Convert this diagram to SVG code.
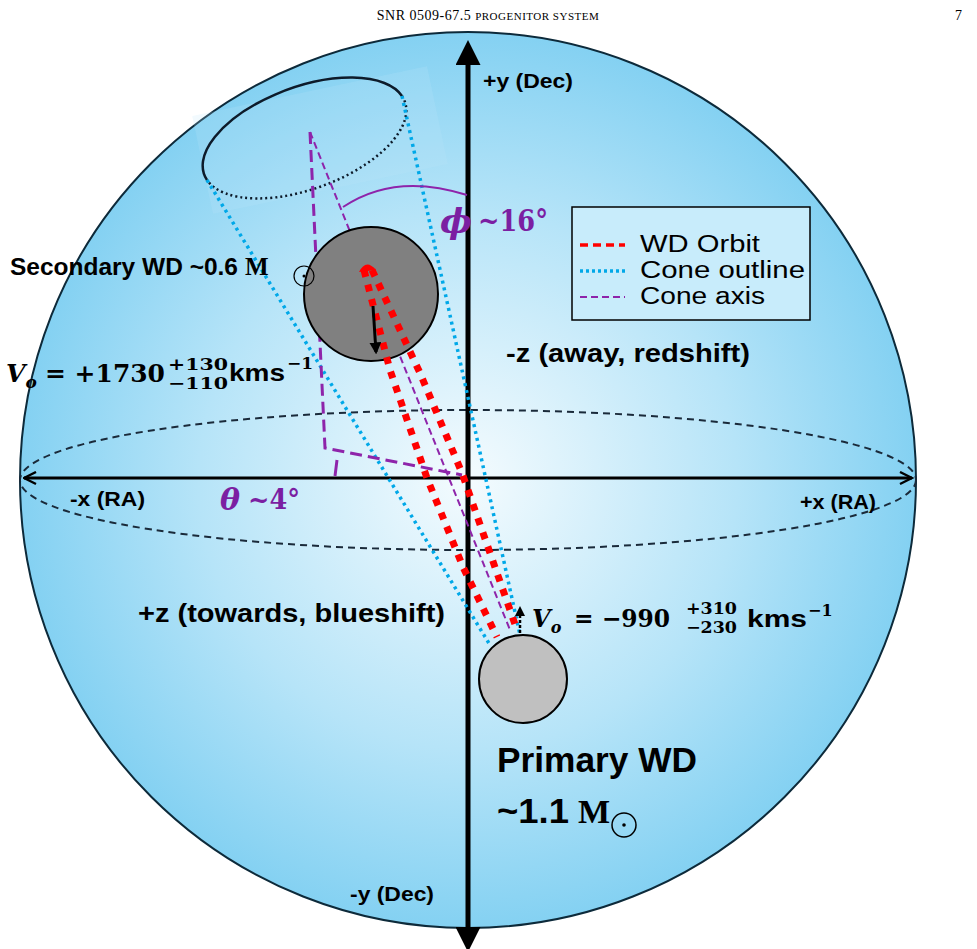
<svg xmlns="http://www.w3.org/2000/svg" width="977" height="949" viewBox="0 0 977 949">
<defs>
<radialGradient id="bg" cx="468" cy="480" r="448" gradientUnits="userSpaceOnUse">
<stop offset="0" stop-color="#f4fbfe"/><stop offset="0.6" stop-color="#b6e4f8"/><stop offset="1" stop-color="#84d1f2"/>
</radialGradient>
<marker id="ah" viewBox="0 0 10 10" refX="8" refY="5" markerWidth="4" markerHeight="4" orient="auto-start-reverse"><path d="M0,0 L10,5 L0,10 z" fill="#000"/></marker>
<marker id="av" viewBox="0 0 10 10" refX="2" refY="5" markerWidth="5" markerHeight="5" orient="auto-start-reverse"><path d="M0,0 L10,5 L0,10 z" fill="#000"/></marker>
<marker id="ax" viewBox="0 0 10 10" refX="9" refY="5" markerWidth="5" markerHeight="5" orient="auto-start-reverse"><path d="M1,1 L9,5 L1,9" fill="none" stroke="#000" stroke-width="1.6"/></marker>
</defs>
<style>
text{}
.ax{font-family:"Liberation Sans",Arial,sans-serif;font-weight:bold;font-size:20px;fill:#000}
.lab{font-family:"Liberation Sans",Arial,sans-serif;font-weight:bold;fill:#000}
.m{font-family:"DejaVu Serif","Liberation Serif",serif;font-weight:bold;fill:#000}
.pur{fill:#7b1fa2}
.leg{font-family:"Liberation Sans",Arial,sans-serif;font-size:23px;fill:#000}
</style>
<text x="488" y="20" text-anchor="middle" font-family="'Liberation Serif',serif" font-size="14" letter-spacing="0.5">SNR 0509-67.5 <tspan font-size="11">PROGENITOR SYSTEM</tspan></text>
<text x="955" y="20" font-family="'Liberation Serif',serif" font-size="14">7</text>
<g id="sphere">
<circle cx="468" cy="480" r="448" fill="url(#bg)" stroke="#0d2a3a" stroke-width="2"/>
<ellipse cx="468" cy="480" rx="448" ry="70" fill="none" stroke="#1a2a3a" stroke-width="2" stroke-dasharray="7,5"/>
<rect x="200" y="90" width="240" height="100" fill="#bfe8fa" opacity="0.2" transform="rotate(-12 320 140)"/>
</g>
<g id="axes">
<line x1="24" y1="478" x2="912" y2="478" stroke="#000" stroke-width="3" marker-start="url(#ax)" marker-end="url(#ax)"/>
<line x1="468" y1="60" x2="468" y2="932" stroke="#000" stroke-width="5" marker-start="url(#av)" marker-end="url(#av)"/>
</g>
<g id="connectors">
<path d="M207,180 A100,48 -20 0 1 402,96" fill="none" stroke="#0d1b2a" stroke-width="2.5"/>
<path d="M402,96 A100,48 -20 0 1 207,180" fill="none" stroke="#0d1b2a" stroke-width="2.5" stroke-dasharray="2,3"/>
<line x1="207" y1="180" x2="490" y2="645" stroke="#00a8e8" stroke-width="3.5" stroke-dasharray="3,4"/>
<line x1="402" y1="96" x2="520" y2="635" stroke="#00a8e8" stroke-width="3.5" stroke-dasharray="3,4"/>
<polyline points="310,132 325,448 462,475" fill="none" stroke="#8e24aa" stroke-width="3" stroke-dasharray="12,6"/>
<line x1="337" y1="460" x2="335" y2="476" stroke="#8e24aa" stroke-width="3"/>
<line x1="310" y1="132" x2="510" y2="630" stroke="#8e24aa" stroke-width="2" stroke-dasharray="7,4"/>
<path d="M343,207 Q395,172 467,195" fill="none" stroke="#8e24aa" stroke-width="2"/>
</g>
<g id="secondary">
<circle cx="371" cy="294" r="67" fill="#808080" stroke="#000" stroke-width="2"/>
</g>
<g id="orbit">
<polyline points="364,270 390,370 427,478 463,567 497,637" fill="none" stroke="#ff0000" stroke-width="7" stroke-dasharray="7,8"/>
<polyline points="372,270 420,373 462,473 517,630" fill="none" stroke="#ff0000" stroke-width="7" stroke-dasharray="7,8"/>
<path d="M359,272 Q366,258 376,270 z" fill="#ff0000"/>
<line x1="373" y1="306" x2="376" y2="352" stroke="#000" stroke-width="3" marker-end="url(#ah)"/>
<line x1="520" y1="633" x2="520" y2="608" stroke="#000" stroke-width="2.5" stroke-dasharray="3,2" marker-end="url(#ah)"/>
</g>
<g id="primary">
<circle cx="523" cy="679" r="44" fill="#c0c0c0" stroke="#000" stroke-width="2"/>
</g>
<g id="legend">
<rect x="572" y="207" width="238" height="113" fill="#c8ecfb" stroke="#000" stroke-width="1.5"/>
<line x1="580" y1="245" x2="625" y2="245" stroke="#ff0000" stroke-width="3.5" stroke-dasharray="8,5"/>
<text class="leg" x="640" y="252" textLength="120" lengthAdjust="spacingAndGlyphs">WD Orbit</text>
<line x1="580" y1="271" x2="625" y2="271" stroke="#00a8e8" stroke-width="3.5" stroke-dasharray="3,3"/>
<text class="leg" x="640" y="278" textLength="165" lengthAdjust="spacingAndGlyphs">Cone outline</text>
<line x1="580" y1="297" x2="625" y2="297" stroke="#8e24aa" stroke-width="2" stroke-dasharray="7,4"/>
<text class="leg" x="640" y="304" textLength="125" lengthAdjust="spacingAndGlyphs">Cone axis</text>
</g>
<g id="labels">
<text class="ax" x="483" y="88" textLength="90" lengthAdjust="spacingAndGlyphs">+y (Dec)</text>
<text class="ax" x="350" y="901" textLength="84" lengthAdjust="spacingAndGlyphs">-y (Dec)</text>
<text class="ax" x="70" y="506" textLength="75" lengthAdjust="spacingAndGlyphs">-x (RA)</text>
<text class="ax" x="800" y="509" textLength="76" lengthAdjust="spacingAndGlyphs">+x (RA)</text>
<text class="lab" x="506" y="362" font-size="25" textLength="244" lengthAdjust="spacingAndGlyphs">-z (away, redshift)</text>
<text class="lab" x="138" y="622" font-size="25" textLength="307" lengthAdjust="spacingAndGlyphs">+z (towards, blueshift)</text>
<text class="lab" x="10" y="275" font-size="24" textLength="228" lengthAdjust="spacingAndGlyphs">Secondary WD ~0.6</text>
<text x="245" y="275" font-family="'Liberation Serif',serif" font-weight="bold" font-size="25">M</text>
<circle cx="304" cy="276" r="10" fill="none" stroke="#000" stroke-width="1.2"/><circle cx="304" cy="276" r="1.5" fill="#000"/>
<text class="lab" x="497" y="772" font-size="35" textLength="200" lengthAdjust="spacingAndGlyphs">Primary WD</text>
<text class="lab" x="497" y="823" font-size="35" textLength="72" lengthAdjust="spacingAndGlyphs">~1.1</text>
<text x="578" y="823" font-family="'Liberation Serif',serif" font-weight="bold" font-size="34">M</text>
<circle cx="624" cy="825" r="12" fill="none" stroke="#000" stroke-width="1.5"/><circle cx="624" cy="825" r="1.8" fill="#000"/>
<text class="m" x="6" y="382" font-size="25"><tspan font-style="italic">V</tspan><tspan font-style="italic" font-size="17" dy="6">o</tspan></text>
<text class="m" x="45" y="382" font-size="25" textLength="120" lengthAdjust="spacingAndGlyphs">= +1730</text>
<text class="m" x="168" y="370" font-size="17" textLength="60" lengthAdjust="spacingAndGlyphs">+130</text>
<text class="m" x="168" y="389" font-size="17" textLength="60" lengthAdjust="spacingAndGlyphs">−110</text>
<text class="lab" x="229" y="381" font-size="24" textLength="56" lengthAdjust="spacingAndGlyphs">kms</text>
<text class="m" x="287" y="369" font-size="17">−1</text>
<text class="m" x="532" y="627" font-size="24"><tspan font-style="italic">V</tspan><tspan font-style="italic" font-size="16" dy="6">o</tspan></text>
<text class="m" x="574" y="627" font-size="24" textLength="96" lengthAdjust="spacingAndGlyphs">= −990</text>
<text class="m" x="686" y="614" font-size="16" textLength="51" lengthAdjust="spacingAndGlyphs">+310</text>
<text class="m" x="686" y="633" font-size="16" textLength="51" lengthAdjust="spacingAndGlyphs">−230</text>
<text class="lab" x="747" y="627" font-size="23" textLength="60" lengthAdjust="spacingAndGlyphs">kms</text>
<text class="m" x="808" y="616" font-size="16">−1</text>
<text class="m pur" x="440" y="233" font-size="34" font-style="italic">ϕ</text>
<text class="m pur" x="478" y="231" font-size="30" textLength="70" lengthAdjust="spacingAndGlyphs">~16°</text>
<text class="m pur" x="220" y="510" font-size="30" font-style="italic">θ</text>
<text class="m pur" x="248" y="509" font-size="28" textLength="52" lengthAdjust="spacingAndGlyphs">~4°</text>
</g>
</svg>
